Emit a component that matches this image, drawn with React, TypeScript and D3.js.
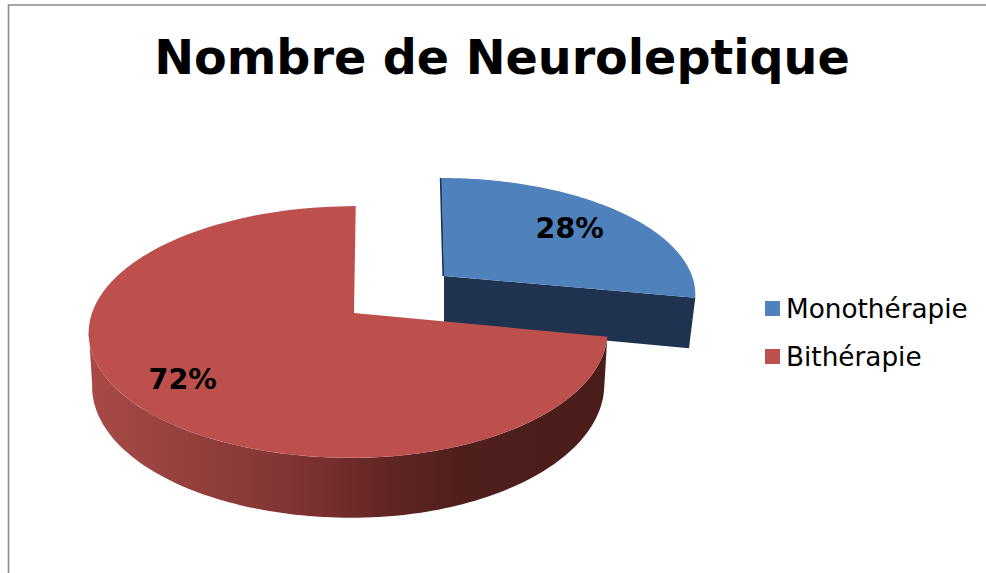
import React from "react";
import * as d3 from "d3";

const title = "Nombre de Neuroleptique";
const categories = ["Monothérapie", "Bithérapie"];
const percents = [28, 72];
const topColors = ["#4f81bd", "#bd504d"];
const sideColors = ["#1f3350", "url(#wall)"];
const wallStops: [number, string][] = [
  [0, "#a84a47"], [0.2, "#93403d"], [0.42, "#7e3230"], [0.55, "#652725"],
  [0.72, "#4f1f1c"], [1, "#4a1d1a"],
];

// projection settings for each exploded slice
const slices3d = [
  { cx: 444, cy: 276, rxL: 248, rxR: 248, ry: 112.8, depth: 49.6, shear: -3, labelR: 0.71, shrink: 0.975 },
  { cx: 354, cy: 313, rxL: 262, rxR: 251, ry: 123, depth: 52.5, shear: 2, labelR: 0.78, shrink: 0.987 },
];
const PERSP = 6.63;

type Cfg = (typeof slices3d)[number];
const project = (c: Cfg, angle: number, r: number, h: number): [number, number] => {
  const X = Math.sin(angle) * r;
  const Y = Math.cos(angle) * r;
  const s = PERSP / (PERSP + Y);
  const k = h ? c.shrink : 1;
  const rx = X < 0 ? c.rxL : c.rxR;
  return [
    c.cx + (X * rx * k + c.shear * Y) * s,
    c.cy + (-Y * c.ry * k + c.depth * h) * s,
  ];
};

const line = d3.line<[number, number]>().curve(d3.curveLinear);
const pie = d3.pie<number>().sort(null).startAngle(0).endAngle(2 * Math.PI);
const arcs = pie(percents);

const rim = (c: Cfg, a0: number, a1: number, h: number) =>
  d3.range(0, 121).map((i) => project(c, a0 + ((a1 - a0) * i) / 120, 1, h));

export default function App() {
  const blue = arcs[0];
  const red = arcs[1];
  const cb = slices3d[0];
  const cr = slices3d[1];

  const bluePoly = [project(cb, 0, 0, 0), ...rim(cb, blue.startAngle, blue.endAngle, 0)];
  const blueCut = [
    project(cb, 0, 0, 0),
    project(cb, blue.endAngle, 1, 0),
    project(cb, blue.endAngle, 1, 1),
    project(cb, 0, 0, 1),
  ];
  const blueEdge = [project(cb, 0, 1, 0), project(cb, 0, 0, 0)];
  const silhouette = (3 * Math.PI) / 2 - 0.14;
  const redWall = [
    ...rim(cr, red.startAngle, silhouette, 0),
    ...rim(cr, red.startAngle, silhouette, 1).reverse(),
  ];
  const redPoly = [project(cr, 0, 0, 0), ...rim(cr, red.startAngle, red.endAngle, 0)];

  const labels = arcs.map((a, i) => {
    const c = slices3d[i];
    return project(c, (a.startAngle + a.endAngle) / 2, c.labelR, 0);
  });

  return (
    <svg
      width={986}
      height={573}
      viewBox="0 0 986 573"
      style={{ position: "absolute", left: 0, top: 0, background: "#fff" }}
    >
      <defs>
        <linearGradient id="wall" gradientUnits="userSpaceOnUse" x1={90} x2={606} y1={0} y2={0}>
          {wallStops.map(([o, col]) => (
            <stop key={o} offset={o} stopColor={col} />
          ))}
        </linearGradient>
      </defs>
      <path d="M8.5,573V5H986" fill="none" stroke="#8a8a8a" strokeWidth={1.6} />
      <text
        x={502}
        y={74}
        textAnchor="middle"
        fontFamily="DejaVu Sans"
        fontWeight="bold"
        fontSize={47.6}
        fill="#000"
      >
        {title}
      </text>

      <path d={line(blueCut)!} fill={sideColors[0]} />
      <path d={line(blueEdge)!} fill="none" stroke={sideColors[0]} strokeWidth={2} transform="translate(-0.6,0)" />
      <path d={line(bluePoly)! + "Z"} fill={topColors[0]} />
      <path d={line(redWall)! + "Z"} fill={sideColors[1]} />
      <path d={line(redPoly)! + "Z"} fill={topColors[1]} />

      {labels.map(([x, y], i) => (
        <text
          key={i}
          x={x}
          y={y + 10}
          textAnchor="middle"
          fontFamily="DejaVu Sans"
          fontWeight="bold"
          fontSize={28.5}
          fill="#000"
        >
          {percents[i]}%
        </text>
      ))}

      {categories.map((name, i) => (
        <g key={name} transform={`translate(765,${301 + i * 48})`}>
          <rect width={15} height={15} fill={topColors[i]} />
          <text x={21} y={16.5} fontFamily="DejaVu Sans" fontSize={26.3} fill="#000">
            {name}
          </text>
        </g>
      ))}
    </svg>
  );
}
